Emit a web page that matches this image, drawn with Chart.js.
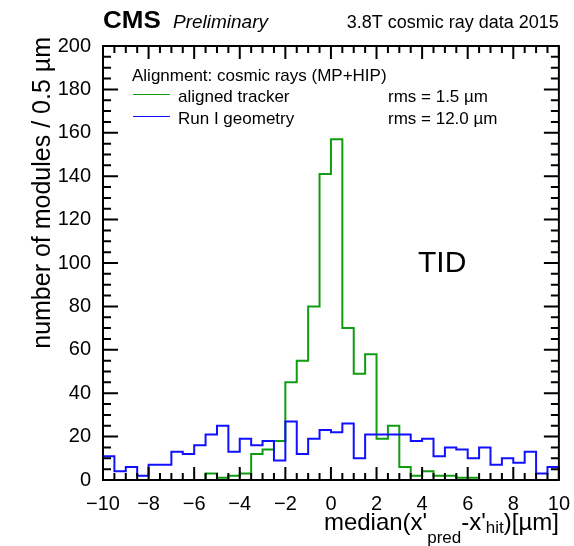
<!DOCTYPE html>
<html lang="en">
<head>
  <meta charset="UTF-8">
  <title>TID median residuals</title>
  <script src="https://cdn.jsdelivr.net/npm/chart.js"></script>
  <style>
    body { margin: 0; padding: 0; background: white; }
    #wrap { width: 574px; height: 546px; }
  </style>
</head>
<body>
  <div id="wrap"><canvas id="histo" width="574" height="546"></canvas></div>
  <script>
    // histogram: 40 bins of 0.5 um from -10 to 10
    const binLow = -10;
    const binWidth = 0.5;
    const alignedCounts = [0, 0, 0, 0, 0, 0, 0, 0, 0, 3,
                           1, 2, 3, 12, 14, 18, 45, 55, 80, 141,
                           157, 70, 49, 58, 19, 25, 6, 2, 4, 2,
                           2, 1, 1, 0, 0, 0, 0, 0, 0, 0];
    const runICounts = [11, 4, 6, 2, 7, 7, 13, 12, 16, 21,
                        25, 13, 19, 16, 18, 9, 27, 12, 19, 23,
                        22, 26, 10, 21, 21, 21, 21, 18, 19, 11,
                        15, 14, 10, 15, 7, 10, 8, 13, 3, 6];
    const legendTitle = "Alignment: cosmic rays (MP+HIP)";
    const seriesNames = ["aligned tracker", "Run I geometry"];
    const rmsLabels = ["rms = 1.5 \u00b5m", "rms = 12.0 \u00b5m"];

    // step points: left edge of every bin, plus the right edge of the last one
    function toSteps(counts) {
      const pts = counts.map((c, i) => ({ x: binLow + i * binWidth, y: c }));
      pts.push({ x: binLow + counts.length * binWidth, y: counts[counts.length - 1] });
      return pts;
    }

    const FONT = "'Liberation Sans', Arial, sans-serif";
    const GREEN = '#109c10';
    const BLUE = '#1010ff';

    // frame with ROOT style inward ticks on all four sides
    const frameTicks = {
      id: 'frameTicks',
      afterDatasetsDraw(chart) {
        const { ctx, chartArea: a, scales } = chart;
        const sx = scales.x, sy = scales.y;
        ctx.save();
        ctx.strokeStyle = '#000';
        ctx.lineWidth = 2;
        ctx.beginPath();
        for (let v = -10; v <= 10.001; v += 0.5) {
          const px = sx.getPixelForValue(v);
          const len = Math.abs(v / 2 - Math.round(v / 2)) < 1e-6 ? 13 : 7;
          ctx.moveTo(px, a.bottom); ctx.lineTo(px, a.bottom - len);
          ctx.moveTo(px, a.top); ctx.lineTo(px, a.top + len);
        }
        for (let v = 0; v <= 200; v += 5) {
          const py = sy.getPixelForValue(v);
          const len = v % 20 === 0 ? 15 : 8;
          ctx.moveTo(a.left, py); ctx.lineTo(a.left + len, py);
          ctx.moveTo(a.right, py); ctx.lineTo(a.right - len, py);
        }
        ctx.stroke();
        ctx.strokeRect(a.left, a.top, a.right - a.left, a.bottom - a.top);
        ctx.restore();
      },
      afterDraw(chart) {
        const { ctx, chartArea: a } = chart;
        ctx.save();
        ctx.fillStyle = '#000';
        ctx.textBaseline = 'alphabetic';

        // header
        ctx.textAlign = 'left';
        ctx.save();
        ctx.translate(a.left, 28);
        ctx.scale(1.13, 1);
        ctx.font = 'bold 23px ' + FONT;
        ctx.fillText('CMS', 0, 0);
        ctx.restore();
        ctx.font = 'italic 19px ' + FONT;
        ctx.fillText('Preliminary', 173, 28);
        ctx.textAlign = 'right';
        ctx.font = '18px ' + FONT;
        ctx.fillText('3.8T cosmic ray data 2015', a.right, 28);

        // legend
        ctx.textAlign = 'left';
        ctx.font = '17px ' + FONT;
        ctx.fillText(legendTitle, 132, 81);
        const colors = [GREEN, BLUE];
        [0, 1].forEach(i => {
          const y = 96 + i * 22;
          ctx.strokeStyle = colors[i];
          ctx.lineWidth = 1;
          ctx.beginPath(); ctx.moveTo(133, y - 1.5); ctx.lineTo(170, y - 1.5); ctx.stroke();
          ctx.fillStyle = '#000';
          ctx.fillText(seriesNames[i], 178, y + 6);
          ctx.fillText(rmsLabels[i], 388, y + 6);
        });

        // detector label
        ctx.font = '30px ' + FONT;
        ctx.fillText('TID', 418, 272);

        // x title with subscripts, right aligned to the frame
        const parts = [
          ['median(x\'', 24, 0], ['pred', 17, 13], ['-x\'', 24, 0],
          ['hit', 17, 3], [')[\u00b5m]', 24, 0]
        ];
        let w = 0;
        parts.forEach(p => { ctx.font = p[1] + 'px ' + FONT; w += ctx.measureText(p[0]).width; });
        let x = a.right - w;
        parts.forEach(p => {
          ctx.font = p[1] + 'px ' + FONT;
          ctx.fillText(p[0], x, 530 + p[2]);
          x += ctx.measureText(p[0]).width;
        });

        // y title, rotated, aligned to the top of the axis
        ctx.translate(50, a.top - 9);
        ctx.rotate(-Math.PI / 2);
        ctx.textAlign = 'right';
        ctx.font = '25px ' + FONT;
        ctx.fillText('number of modules / 0.5 \u00b5m', 0, 0);
        ctx.restore();
      }
    };

    const ctx = document.getElementById('histo').getContext('2d');
    const chart = new Chart(ctx, {
      type: 'line',
      data: {
        datasets: [
          { label: seriesNames[1], data: toSteps(runICounts), borderColor: BLUE,
            borderWidth: 2, stepped: true, pointRadius: 0, fill: false },
          { label: seriesNames[0], data: toSteps(alignedCounts), borderColor: GREEN,
            borderWidth: 2, stepped: true, pointRadius: 0, fill: false }
        ]
      },
      options: {
        responsive: false,
        animation: false,
        layout: { padding: { left: 0, right: 12, top: 46, bottom: 0 } },
        plugins: { legend: { display: false }, tooltip: { enabled: false } },
        scales: {
          x: {
            type: 'linear', min: -10, max: 10,
            grid: { display: false },
            border: { display: false },
            ticks: {
              stepSize: 2, padding: 4, color: '#000', maxRotation: 0,
              font: { family: FONT, size: 20 },
              callback: v => String(v).replace('-', '\u2212')
            },
            afterFit: s => { s.height = 66; }
          },
          y: {
            min: 0, max: 200,
            grid: { display: false },
            border: { display: false },
            ticks: {
              stepSize: 20, padding: 4, color: '#000',
              font: { family: FONT, size: 20 }
            },
            afterFit: s => { s.width = 103; }
          }
        }
      },
      plugins: [frameTicks]
    });
  </script>
</body>
</html>
